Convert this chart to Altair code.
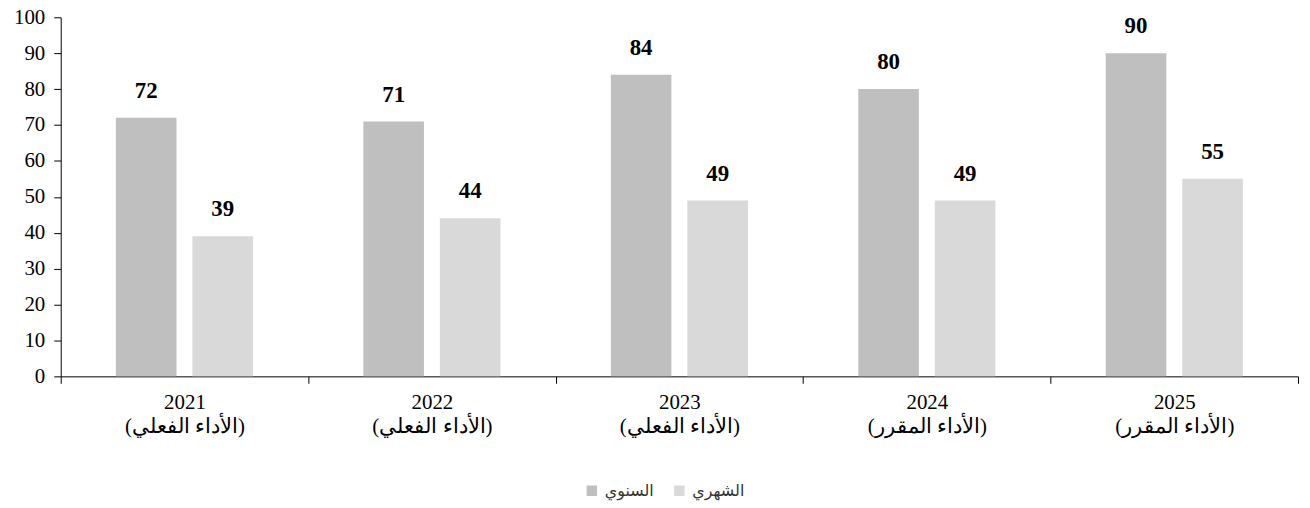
import altair as alt
import pandas as pd

years = ["2021", "2022", "2023", "2024", "2025"]
subtitles = ["(الأداء الفعلي)", "(الأداء الفعلي)", "(الأداء الفعلي)", "(الأداء المقرر)", "(الأداء المقرر)"]
series = ["السنوي", "الشهري"]
annual = [72, 71, 84, 80, 90]
monthly = [39, 44, 49, 49, 55]
y_ticks = [0, 10, 20, 30, 40, 50, 60, 70, 80, 90, 100]
colors = ["#bfbfbf", "#d9d9d9"]

rows = []
for y, s, a, m in zip(years, subtitles, annual, monthly):
    cat = y + "|" + s
    rows.append({"cat": cat, "series": series[0], "value": a})
    rows.append({"cat": cat, "series": series[1], "value": m})
df = pd.DataFrame(rows)
cats = [y + "|" + s for y, s in zip(years, subtitles)]

x = alt.X("cat:N", sort=cats, title=None,
          scale=alt.Scale(paddingInner=0, paddingOuter=0),
          axis=alt.Axis(labelExpr="split(datum.label, '|')", labelAngle=0,
                        tickBand="extent", tickSize=7, tickColor="black",
                        domainColor="black", labelFont="Liberation Serif",
                        labelFontSize=21, labelColor="black", labelPadding=8,
                        labelLineHeight=24, labelBaseline="top"))
xoff = alt.XOffset("series:N", sort=series,
                   scale=alt.Scale(paddingInner=0.208, paddingOuter=0.721))
y = alt.Y("value:Q", title=None,
          scale=alt.Scale(domain=[0, 100], nice=False),
          axis=alt.Axis(values=y_ticks, grid=False, tickSize=7,
                        tickColor="black", domainColor="black",
                        labelFont="Liberation Serif", labelFontSize=21,
                        labelColor="black", labelPadding=9, labelOverlap=False))

color = alt.Color("series:N", sort=series,
                  scale=alt.Scale(domain=series, range=colors),
                  legend=alt.Legend(title=None, orient="none", direction="horizontal",
                                    legendX=526, legendY=468,
                                    symbolType="square", symbolSize=110,
                                    symbolStrokeWidth=0, labelFontSize=16,
                                    labelFont="DejaVu Sans", labelColor="#333333",
                                    labelOffset=5, columnPadding=17))

base = alt.Chart(df).encode(x=x, xOffset=xoff, y=y)
bars = base.mark_bar().encode(color=color)
labels = base.mark_text(dy=-27, fontWeight="bold", font="Liberation Serif",
                        fontSize=23, color="black").encode(text="value:Q")

chart = (bars + labels).properties(
    width=1244, height=361,
    autosize=alt.AutoSizeParams(type="none"),
    padding={"left": 53, "top": 8, "right": 4, "bottom": 128},
).configure_view(stroke=None)

chart.save("out.html", embed_options={"renderer": "svg", "actions": False})
